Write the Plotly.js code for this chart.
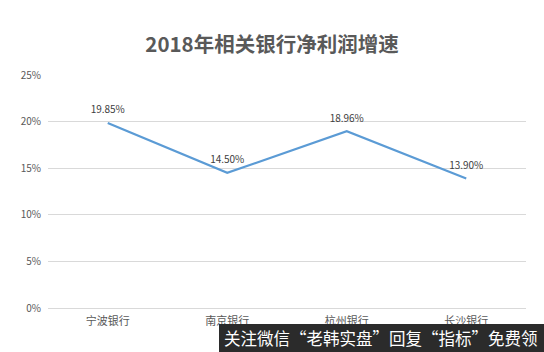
<!DOCTYPE html>
<html>
<head>
<meta charset="utf-8">
<script src="https://cdn.plot.ly/plotly-3.0.1.min.js"></script>
<style>html,body{margin:0;padding:0;background:#fff;}#chart{width:544px;height:352px;}</style>
</head>
<body>
<div id="chart"></div>
<script>
const categories = ['宁波银行', '南京银行', '杭州银行', '长沙银行'];
const growth = [19.85, 14.50, 18.96, 13.90];
const labels = ['19.85%', '14.50%', '18.96%', '13.90%'];
const yTicks = [0, 5, 10, 15, 20, 25];
const yTickText = ['0%', '5%', '10%', '15%', '20%', '25%'];
const titleText = '2018年相关银行净利润增速';
const watermark = '关注微信“老韩实盘”回复“指标”免费领';

const font = '"Noto Sans CJK SC", "Microsoft YaHei", sans-serif';

Plotly.newPlot('chart', [{
  x: categories,
  y: growth,
  type: 'scatter',
  mode: 'lines+markers+text',
  text: labels,
  textposition: 'top center',
  textfont: {family: font, size: 10, color: '#404040'},
  marker: {size: 10, opacity: 0},
  line: {color: '#5B9BD5', width: 2.2},
  cliponaxis: false,
  hoverinfo: 'skip'
}], {
  width: 544, height: 352,
  margin: {l: 48, r: 18, t: 75, b: 44},
  paper_bgcolor: '#ffffff',
  plot_bgcolor: '#ffffff',
  showlegend: false,
  title: {text: '<b>' + titleText + '</b>', x: 0.5, xanchor: 'center', y: 0.872, yanchor: 'middle',
          font: {family: font, size: 20.5, color: '#595959'}},
  xaxis: {
    type: 'category',
    range: [-0.5, 3.5],
    showgrid: false, zeroline: false,
    showline: false,
    ticks: '',
    tickfont: {family: font, size: 11, color: '#595959'},
    ticklabelstandoff: 5
  },
  yaxis: {
    range: [0, 25],
    tickvals: yTicks,
    ticktext: yTickText,
    showgrid: true, gridcolor: '#D9D9D9', gridwidth: 1,
    zeroline: true, zerolinecolor: '#D9D9D9', zerolinewidth: 1,
    showline: false, ticks: '',
    tickfont: {family: font, size: 10, color: '#595959'},
    ticklabelstandoff: 6
  },
  shapes: [{
    type: 'rect', xref: 'paper', yref: 'paper',
    x0: (219 - 48) / 478, x1: (544 - 48) / 478,
    y0: -44 / 233, y1: -16 / 233,
    fillcolor: '#2b2b2b', line: {width: 0}, layer: 'above'
  }],
  annotations: [{
    text: watermark, xref: 'paper', yref: 'paper',
    x: (381 - 48) / 478, y: -30 / 233, xanchor: 'center', yanchor: 'middle',
    showarrow: false,
    font: {family: font, size: 16.5, color: '#ffffff'}
  }]
}, {displayModeBar: false, staticPlot: true});
</script>
</body>
</html>
